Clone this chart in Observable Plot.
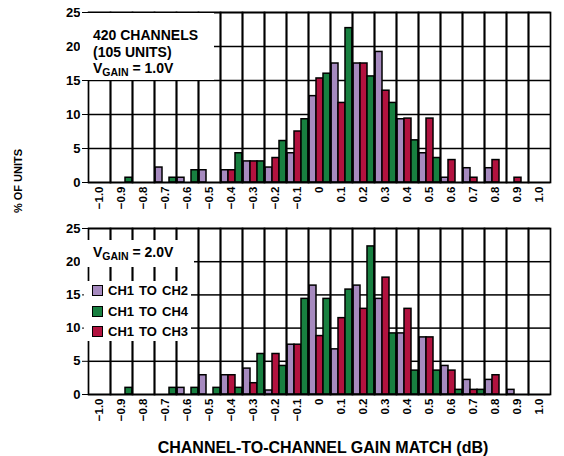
<!DOCTYPE html>
<html>
<head>
<meta charset="utf-8">
<script src="https://cdn.jsdelivr.net/npm/d3@7"></script>
<script src="https://cdn.jsdelivr.net/npm/@observablehq/plot@0.6"></script>
<style>
  html, body { margin: 0; padding: 0; background: #fff; }
  #wrap { position: relative; width: 564px; height: 456px; overflow: hidden;
          font-family: "Liberation Sans", Arial, Helvetica, sans-serif; font-weight: bold; color: #000; }
  #wrap svg { display: block; }
  #wrap [aria-label^="y-axis"] text { font-size: 13px; }
  #wrap svg [aria-label="bar"] rect { stroke: #000; stroke-width: 1.5px; }
  .box { position: absolute; background: #fff; }
  .note { position: absolute; font-size: 14px; line-height: 16.5px; white-space: nowrap; }
  .sub { font-size: 10.5px; position: relative; top: 3px; }
  .leg { position: absolute; font-size: 13px; line-height: 20.5px; white-space: nowrap; word-spacing: 1.5px; }
  .sw { display: inline-block; width: 9px; height: 9px; border: 1.3px solid #000; margin-right: 5px; vertical-align: -1px; }
  #ytitle { position: absolute; left: 18px; top: 181px; font-size: 11px; white-space: nowrap;
            transform: translate(-50%, -50%) rotate(-90deg); }
  #xtitle { position: absolute; left: 0; width: 646px; top: 439px; text-align: center; font-size: 16px; white-space: nowrap; }
</style>
</head>
<body>
<div id="wrap"></div>
<script>
// Bins (x tick labels), series and y ticks
const bins = ["−1.0","−0.9","−0.8","−0.7","−0.6","−0.5","−0.4","−0.3","−0.2","−0.1","0",
              "0.1","0.2","0.3","0.4","0.5","0.6","0.7","0.8","0.9","1.0"];
const series = ["CH1 TO CH2", "CH1 TO CH3", "CH1 TO CH4"];
const legendOrder = ["CH1 TO CH2", "CH1 TO CH4", "CH1 TO CH3"];
const colors = ["#A68ABF", "#B2123F", "#188040"];
const yTicks = [0, 5, 10, 15, 20, 25];

// Top panel: VGAIN = 1.0V (% of units)
const topCh2 = [0,0,0,2.2,0.7,1.8,1.8,3.1,2.2,4.3,12.7,17.5,17.5,19.2,9.3,4.3,0.7,2.1,2.1,0,0];
const topCh3 = [0,0,0,0,0,0,1.8,3.1,3.6,7.5,15.3,11.7,17.5,13.5,9.4,9.4,3.3,0.7,3.3,0.7,0];
const topCh4 = [0,0.7,0,0.7,1.8,0,4.3,3.1,6.1,9.3,16.0,22.7,15.6,11.7,6.2,3.6,0,0,0,0,0];

// Bottom panel: VGAIN = 2.0V (% of units)
const botCh2 = [0,0,0,0,1.0,2.9,2.9,3.9,0.6,7.5,16.4,6.8,16.4,14.4,9.2,8.6,4.3,2.2,2.2,0.7,0];
const botCh3 = [0,0,0,0,0,0,2.9,1.7,6.1,7.5,8.8,11.5,12.9,17.6,12.9,8.6,3.6,0.7,2.9,0,0];
const botCh4 = [0,1.0,0,1.0,1.0,1.0,1.0,6.1,4.3,14.4,14.4,15.8,22.3,9.2,3.6,3.6,0.7,0.7,0,0,0];

function rowsOf(ch2, ch3, ch4) {
  const vals = {"CH1 TO CH2": ch2, "CH1 TO CH3": ch3, "CH1 TO CH4": ch4};
  return bins.flatMap((b, i) => series.map(s => ({bin: b, series: s, value: vals[s][i]})));
}

function panel(rows, height, marginTop, marginBottom) {
  return Plot.plot({
    width: 564,
    height,
    marginLeft: 79,
    marginRight: 5,
    marginTop,
    marginBottom,
    facet: {data: rows, x: "bin"},
    fx: {domain: bins, padding: 0, axis: "bottom", tickRotate: -90, tickSize: 0, tickPadding: 4, label: null},
    x: {domain: series, padding: 0, axis: null},
    y: {domain: [0, 25], ticks: yTicks, tickSize: 6, tickPadding: 2, label: null},
    color: {domain: series, range: colors},
    style: {fontFamily: '"Liberation Sans", Arial, Helvetica, sans-serif', fontWeight: "bold", fontSize: "11.5px", color: "#000", background: "transparent"},
    marks: [
      Plot.ruleY(yTicks, {stroke: "#000", strokeWidth: 1.5}),
      Plot.barY(rows, {x: "series", y: "value", fill: "series", stroke: "#000", strokeWidth: 1.5, filter: d => d.value > 0}),
      Plot.frame({stroke: "#000", strokeWidth: 1.7})
    ]
  });
}

const wrap = document.getElementById("wrap");
wrap.appendChild(panel(rowsOf(topCh2, topCh3, topCh4), 218, 12, 36));
wrap.appendChild(panel(rowsOf(botCh2, botCh3, botCh4), 238, 10, 62));

function el(cls, style, html) {
  const d = document.createElement("div");
  if (cls) d.className = cls;
  if (style) d.setAttribute("style", style);
  if (html != null) d.innerHTML = html;
  wrap.appendChild(d);
  return d;
}

// Annotation boxes
el("box", "left:80px;top:13px;width:134px;height:67px;");
el("note", "left:93px;top:27px;", "420 CHANNELS<br>(105 UNITS)<br>V<span class='sub'>GAIN</span> = 1.0V");
el("box", "left:80px;top:240px;width:114px;height:27px;");
el("note", "left:93px;top:244px;", "V<span class='sub'>GAIN</span> = 2.0V");

// Legend
el("box", "left:84px;top:281px;width:107px;height:60px;");
const leg = el("leg", "left:92px;top:281px;");
leg.innerHTML = legendOrder.map(s =>
  `<div><span class="sw" style="background:${colors[series.indexOf(s)]}"></span>${s}</div>`).join("");

el(null, null, "% OF UNITS").id = "ytitle";
el(null, null, "CHANNEL-TO-CHANNEL GAIN MATCH (dB)").id = "xtitle";
</script>
</body>
</html>
